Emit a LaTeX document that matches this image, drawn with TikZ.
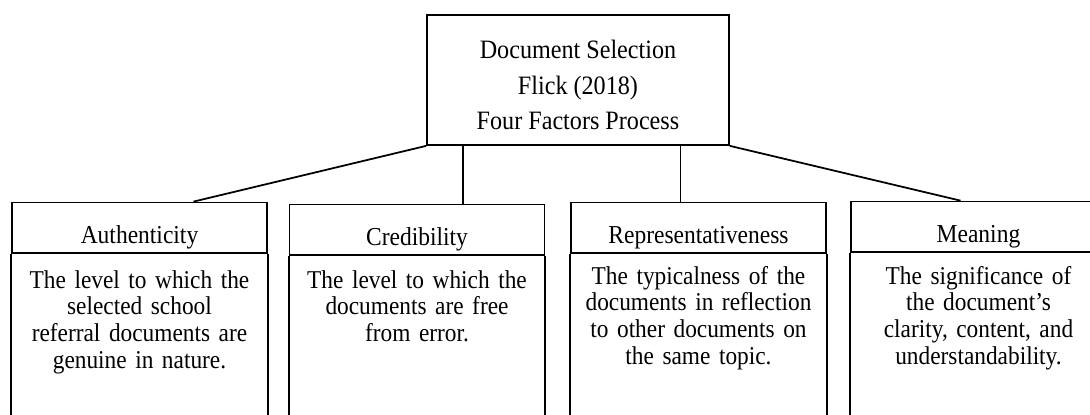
\documentclass[tikz,border=0pt]{standalone}
\usepackage{fontspec}
\setmainfont{Liberation Serif}[FakeStretch=0.91]
\usetikzlibrary{calc}

\newcommand{\docfont}{\fontsize{15.1}{20.3}\selectfont}
\newcommand{\factorfont}{\fontsize{14.7}{18}\selectfont}
\newcommand{\descfont}{\fontsize{14.6}{15.2}\selectfont\lineskiplimit=-20pt}

\begin{document}
\begin{tikzpicture}[x=0.02cm,y=-0.02cm,
  box/.style={draw,line width=1pt},
  factor/.style={box,minimum width=5.1cm,inner sep=0pt,text height=0.81cm,text depth=0.2cm,font=\factorfont,anchor=base},
  desc/.style={text width=5.2cm,align=center,inner sep=0pt,font=\descfont,anchor=base},
  link/.style={line width=1pt}]

% Frame (boxes run off the bottom and the right)
\path[use as bounding box,clip] (0,0) rectangle (1090,414);

% Top box
\node[box,minimum width=6.04cm,minimum height=2.6cm] (doc) at (578,80) {};
\node[align=center,font=\docfont,inner sep=0pt] (doctitle) at (578,85)
  {Document Selection\\Flick (2018)\\Four Factors Process};

% Factor boxes
\node[factor] (auth) at (139.5,243) {Authenticity};
\node[factor] (cred) at (417,245) {Credibility};
\node[factor] (repr) at (698.5,243) {Representativeness};
\node[factor] (mean) at (978.5,242) {Meaning};

\foreach \f in {auth,cred,repr,mean}
  \draw[link] (\f.south west) -- ++(0,200) (\f.south east) -- ++(0,200);

% Descriptions
\node[desc] (authtxt) at (139.5,288) {The level to which the\\selected school\\referral documents are\\genuine in nature.};
\node[desc] (credtxt) at (417,288) {The level to which the\\documents are free\\from error.};
\node[desc] (reprtxt) at (698.5,284) {The typicalness of the\\documents in reflection\\to other documents on\\the same topic.};
\node[desc] (meantxt) at (978.5,284) {The significance of\\the document’s\\clarity, content, and\\understandability.};

% Connecting lines
\coordinate (credtop) at ($(cred.north west)!.68!(cred.north east)$);
\coordinate (reprtop) at ($(repr.north west)!.43!(repr.north east)$);
\draw[link] (doc.south west) -- ($(auth.north west)!.71!(auth.north east)$);
\draw[link] (doc.south -| credtop) -- (credtop);
\draw[link] (doc.south -| reprtop) -- (reprtop);
\draw[link] (doc.south east) -- ($(mean.north west)!.43!(mean.north east)$);

\end{tikzpicture}
\end{document}
